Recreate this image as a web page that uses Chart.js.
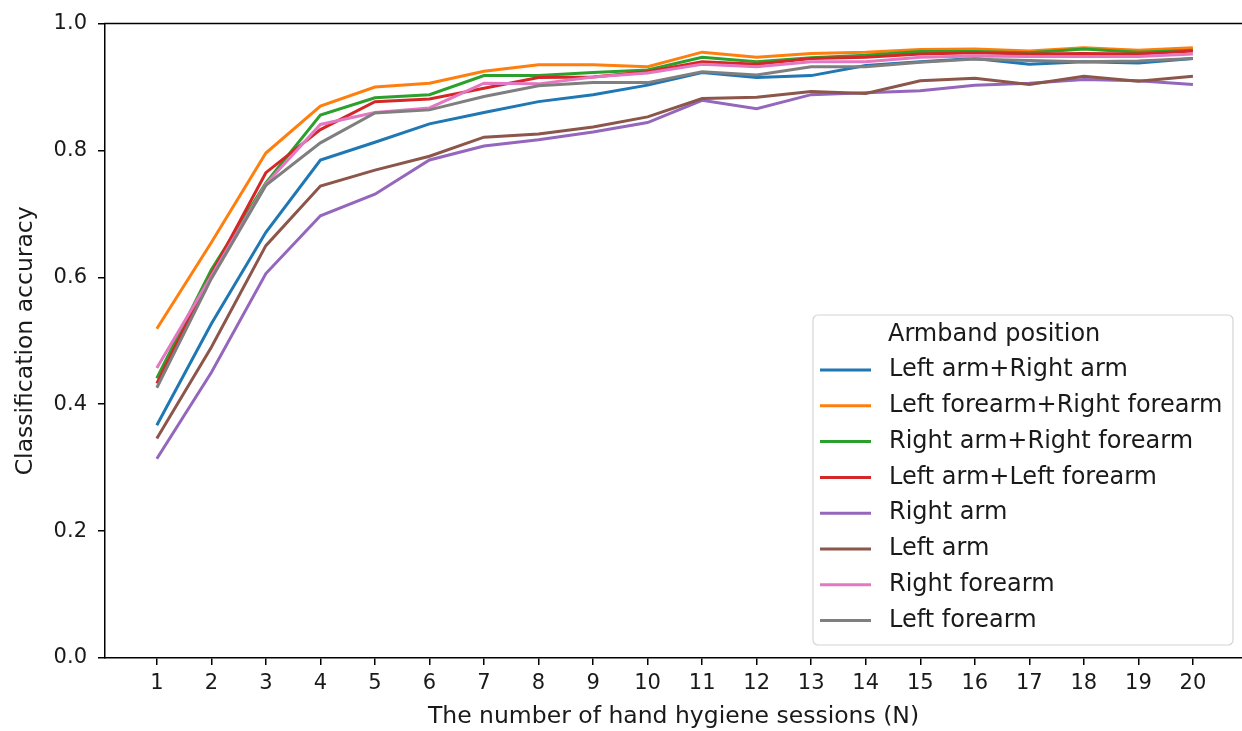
<!DOCTYPE html>
<html>
<head>
<meta charset="utf-8">
<script src="https://cdn.jsdelivr.net/npm/chart.js@4.4.1/dist/chart.umd.min.js"></script>
<style>
  html, body { margin:0; padding:0; background:#fff; }
  #wrap { width:1242px; height:731px; }
</style>
</head>
<body>
<div id="wrap"><canvas id="chart" width="1242" height="731"></canvas></div>
<script>
// x values (number of sessions) and y ticks
const sessions = [1,2,3,4,5,6,7,8,9,10,11,12,13,14,15,16,17,18,19,20];
const yTicks = [0, 0.2, 0.4, 0.6, 0.8, 1.0];

const legendTitle = 'Armband position';
const seriesNames = [
  'Left arm+Right arm',
  'Left forearm+Right forearm',
  'Right arm+Right forearm',
  'Left arm+Left forearm',
  'Right arm',
  'Left arm',
  'Right forearm',
  'Left forearm'
];
const seriesColors = ['#1f77b4','#ff7f0e','#2ca02c','#d62728','#9467bd','#8c564b','#e377c2','#7f7f7f'];

// accuracy values
const leftArmRightArm = [0.367,0.527,0.671,0.785,0.813,0.842,0.860,0.877,0.888,0.903,0.923,0.915,0.918,0.934,0.940,0.945,0.936,0.940,0.938,0.945];
const leftFaRightFa   = [0.519,0.655,0.796,0.870,0.900,0.906,0.925,0.935,0.935,0.932,0.955,0.947,0.953,0.955,0.959,0.960,0.957,0.962,0.958,0.962];
const rightArmRightFa = [0.441,0.612,0.749,0.856,0.883,0.888,0.918,0.918,0.923,0.927,0.947,0.940,0.946,0.950,0.956,0.956,0.954,0.960,0.955,0.958];
const leftArmLeftFa   = [0.433,0.605,0.765,0.833,0.877,0.881,0.898,0.915,0.916,0.924,0.940,0.936,0.945,0.947,0.952,0.954,0.952,0.953,0.952,0.957];
const rightArm        = [0.314,0.450,0.606,0.697,0.731,0.785,0.807,0.817,0.829,0.844,0.879,0.866,0.888,0.891,0.894,0.903,0.906,0.912,0.910,0.904];
const leftArm         = [0.346,0.490,0.650,0.744,0.769,0.791,0.821,0.826,0.837,0.853,0.882,0.884,0.893,0.890,0.910,0.914,0.904,0.917,0.909,0.917];
const rightForearm    = [0.457,0.602,0.747,0.841,0.860,0.867,0.906,0.905,0.916,0.922,0.936,0.932,0.940,0.940,0.947,0.949,0.948,0.948,0.948,0.952];
const leftForearm     = [0.426,0.598,0.745,0.812,0.859,0.864,0.885,0.902,0.907,0.907,0.924,0.919,0.932,0.932,0.939,0.944,0.942,0.940,0.941,0.945];

const allSeries = [leftArmRightArm, leftFaRightFa, rightArmRightFa, leftArmLeftFa, rightArm, leftArm, rightForearm, leftForearm];

const FONT = 'DejaVu Sans';
const TXT = '#1a1a1a';

const datasets = allSeries.map((vals, i) => ({
  label: seriesNames[i],
  data: vals.map((v, k) => ({x: sessions[k], y: v})),
  borderColor: seriesColors[i],
  backgroundColor: seriesColors[i],
  borderWidth: 3,
  pointRadius: 0,
  tension: 0,
  fill: false,
  order: -i   // later series on top, like matplotlib
}));

/* top spine (right one sits just off the canvas) */
const topSpine = {
  id: 'topSpine',
  afterDraw(chart){
    const {ctx, chartArea} = chart;
    ctx.save();
    ctx.strokeStyle = '#000';
    ctx.lineWidth = 1.5;
    ctx.beginPath();
    ctx.moveTo(chartArea.left - 0.75, chartArea.top);
    ctx.lineTo(chartArea.right, chartArea.top);
    ctx.stroke();
    ctx.restore();
  }
};

/* matplotlib-style legend box in lower right */
const boxLegend = {
  id: 'boxLegend',
  afterDatasetsDraw(chart){
    const {ctx} = chart;
    const x0 = 813, y0 = 315, x1 = 1233, y1 = 645, r = 5;
    ctx.save();
    ctx.beginPath();
    ctx.moveTo(x0 + r, y0);
    ctx.arcTo(x1, y0, x1, y1, r);
    ctx.arcTo(x1, y1, x0, y1, r);
    ctx.arcTo(x0, y1, x0, y0, r);
    ctx.arcTo(x0, y0, x1, y0, r);
    ctx.closePath();
    ctx.fillStyle = 'rgba(255,255,255,0.8)';
    ctx.fill();
    ctx.strokeStyle = '#d4d4d4';
    ctx.lineWidth = 1.2;
    ctx.stroke();

    ctx.font = '24px "' + FONT + '"';
    ctx.fillStyle = TXT;
    ctx.textBaseline = 'middle';
    ctx.textAlign = 'left';
    ctx.fillText(legendTitle, 888, 335);

    chart.data.datasets.forEach((ds, i) => {
      const y = 370 + i * 35.8;
      ctx.strokeStyle = ds.borderColor;
      ctx.lineWidth = 3;
      ctx.beginPath();
      ctx.moveTo(820, y);
      ctx.lineTo(871, y);
      ctx.stroke();
      ctx.fillStyle = TXT;
      ctx.fillText(ds.label, 889, y);
    });
    ctx.restore();
  }
};

new Chart(document.getElementById('chart'), {
  type: 'line',
  data: { datasets },
  options: {
    responsive: false,
    animation: false,
    devicePixelRatio: 1,
    layout: { padding: { top: 17, right: 0, left: 0, bottom: 0 } },
    plugins: { legend: { display: false }, tooltip: { enabled: false } },
    scales: {
      x: {
        type: 'linear',
        min: 0.05,
        max: 20.9,
        afterBuildTicks: s => { s.ticks = sessions.map(v => ({value: v})); },
        afterFit: s => { s.height = 73; },
        ticks: { color: TXT, font: { family: FONT, size: 21 }, padding: 6, maxRotation: 0, autoSkip: false },
        grid: { display: true, drawOnChartArea: false, drawTicks: true, tickLength: 7, color: '#000', lineWidth: 1.5 },
        border: { display: true, color: '#000', width: 1.5 },
        title: { display: true, text: 'The number of hand hygiene sessions (N)', color: TXT,
                 font: { family: FONT, size: 23.5 }, padding: { top: 0, bottom: 0 } }
      },
      y: {
        type: 'linear',
        min: 0,
        max: 1,
        afterBuildTicks: s => { s.ticks = yTicks.map(v => ({value: v})); },
        afterFit: s => { s.width = 105; },
        ticks: { color: TXT, font: { family: FONT, size: 21 }, padding: 11,
                 callback: v => Number(v).toFixed(1) },
        grid: { display: true, drawOnChartArea: false, drawTicks: true, tickLength: 7, color: '#000', lineWidth: 1.5 },
        border: { display: true, color: '#000', width: 1.5 },
        title: { display: true, text: 'Classification accuracy', color: TXT,
                 font: { family: FONT, size: 23.5 }, padding: { top: 12, bottom: 0 } }
      }
    }
  },
  plugins: [topSpine, boxLegend]
});
</script>
</body>
</html>
